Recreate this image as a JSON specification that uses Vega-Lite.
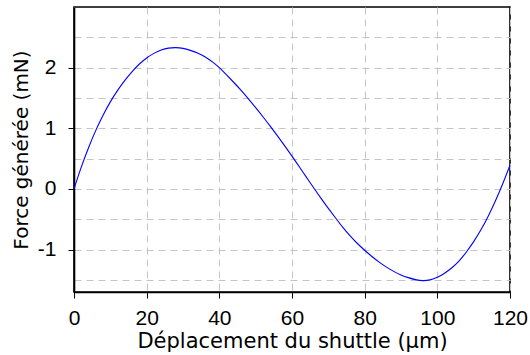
{
  "$schema": "https://vega.github.io/schema/vega-lite/v6.json",
  "autosize": "none",
  "padding": {"left": 74, "top": 7, "right": 20, "bottom": 63},
  "width": 436,
  "height": 285,
  "background": "white",
  "config": {
    "view": {"stroke": "black", "strokeWidth": 1.6},
    "font": "DejaVu Sans"
  },
  "data": {"values": [
    {"d": 0, "f": 0}, {"d": 2, "f": 0.36}, {"d": 4, "f": 0.68}, {"d": 6, "f": 0.965},
    {"d": 8, "f": 1.215}, {"d": 10, "f": 1.435}, {"d": 12, "f": 1.625}, {"d": 14, "f": 1.79},
    {"d": 16, "f": 1.935}, {"d": 18, "f": 2.06}, {"d": 20, "f": 2.16}, {"d": 22, "f": 2.235},
    {"d": 24, "f": 2.29}, {"d": 26, "f": 2.322}, {"d": 28, "f": 2.33}, {"d": 30, "f": 2.318},
    {"d": 32, "f": 2.285}, {"d": 34, "f": 2.24}, {"d": 36, "f": 2.18}, {"d": 38, "f": 2.10},
    {"d": 40, "f": 2.0}, {"d": 42, "f": 1.88}, {"d": 44, "f": 1.755}, {"d": 46, "f": 1.625},
    {"d": 48, "f": 1.485}, {"d": 50, "f": 1.34}, {"d": 52, "f": 1.19}, {"d": 54, "f": 1.035},
    {"d": 56, "f": 0.875}, {"d": 58, "f": 0.71}, {"d": 60, "f": 0.54}, {"d": 62, "f": 0.365},
    {"d": 64, "f": 0.19}, {"d": 66, "f": 0.015}, {"d": 68, "f": -0.155}, {"d": 70, "f": -0.32},
    {"d": 72, "f": -0.48}, {"d": 74, "f": -0.635}, {"d": 76, "f": -0.775}, {"d": 78, "f": -0.90},
    {"d": 80, "f": -1.012}, {"d": 82, "f": -1.115}, {"d": 84, "f": -1.208}, {"d": 86, "f": -1.29},
    {"d": 88, "f": -1.36}, {"d": 90, "f": -1.418}, {"d": 92, "f": -1.463}, {"d": 94, "f": -1.496},
    {"d": 96, "f": -1.512}, {"d": 98, "f": -1.50}, {"d": 100, "f": -1.458}, {"d": 102, "f": -1.39},
    {"d": 104, "f": -1.30}, {"d": 106, "f": -1.185}, {"d": 108, "f": -1.04}, {"d": 110, "f": -0.87},
    {"d": 112, "f": -0.675}, {"d": 114, "f": -0.45}, {"d": 116, "f": -0.195}, {"d": 118, "f": 0.085},
    {"d": 120, "f": 0.39}
  ]},
  "mark": {"type": "line", "color": "#0000ff", "strokeWidth": 1.1, "interpolate": "natural"},
  "encoding": {
    "x": {
      "field": "d", "type": "quantitative",
      "scale": {"domain": [0, 120], "nice": false, "zero": false},
      "axis": {
        "title": "Déplacement du shuttle (µm)",
        "values": [0, 20, 40, 60, 80, 100, 120],
        "domainColor": "black", "domainWidth": 1.6,
        "tickColor": "black", "tickSize": 6, "tickWidth": 1,
        "labelFont": "Liberation Sans", "labelFontSize": 21, "labelColor": "black",
        "labelPadding": 9, "labelFlush": false,
        "titleFont": "DejaVu Sans", "titleFontSize": 21, "titleFontWeight": "normal",
        "titleColor": "black", "titlePadding": 2,
        "grid": true, "gridColor": "#c4c4c4", "gridDash": [7, 5], "gridWidth": 1
      }
    },
    "y": {
      "field": "f", "type": "quantitative",
      "scale": {"domain": [-1.7, 3], "nice": false, "zero": false},
      "axis": {
        "title": "Force générée (mN)",
        "values": [-1.5, -1, -0.5, 0, 0.5, 1, 1.5, 2, 2.5],
        "labelExpr": "datum.value % 1 == 0 ? toString(datum.value) : ''",
        "domainColor": "black", "domainWidth": 1.6,
        "tickColor": {"condition": {"test": "datum.value % 1 != 0", "value": "transparent"}, "value": "black"},
        "tickSize": 6, "tickWidth": 1,
        "labelFont": "Liberation Sans", "labelFontSize": 21, "labelColor": "black",
        "labelPadding": 12,
        "titleFont": "DejaVu Sans", "titleFontSize": 20, "titleFontWeight": "normal",
        "titleColor": "black", "titlePadding": 6,
        "grid": true, "gridColor": "#c4c4c4", "gridDash": [7, 5], "gridWidth": 1
      }
    }
  }
}
